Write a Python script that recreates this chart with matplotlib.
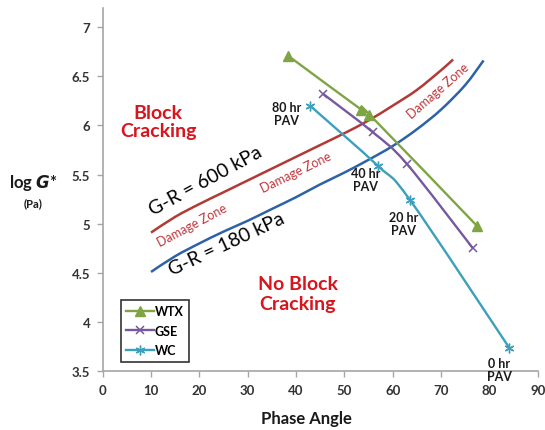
import matplotlib
matplotlib.use('Agg')
import matplotlib.pyplot as plt
import numpy as np
from matplotlib.path import Path
from matplotlib.patches import PathPatch
from matplotlib.lines import Line2D

plt.rcParams['font.family'] = ['Lato', 'DejaVu Sans']

# ---- data ----
wtx_phase = [38.3, 53.5, 55.2, 77.4]
wtx_logg = [6.71, 6.16, 6.11, 4.98]

gse_phase = [45.6, 55.9, 62.9, 76.6]
gse_logg = [6.32, 5.93, 5.61, 4.75]

wc_phase = [42.9, 56.9, 63.6, 84.1]
wc_logg = [6.20, 5.59, 5.24, 3.74]

# G-R = 600 kPa boundary (upper) and G-R = 180 kPa boundary (lower)
gr600_phase = [10, 15, 20, 25, 30, 35, 40, 45, 50, 55, 60, 65, 70, 72.5]
gr600_logg = [4.91, 5.07, 5.20, 5.32, 5.44, 5.56, 5.68, 5.80, 5.92, 6.05, 6.20, 6.36, 6.56, 6.67]
gr180_phase = [10, 15, 20, 25, 30, 35, 40, 45, 50, 55, 60, 65, 70, 75, 78.8]
gr180_logg = [4.51, 4.67, 4.80, 4.92, 5.03, 5.15, 5.27, 5.40, 5.52, 5.65, 5.79, 5.96, 6.16, 6.41, 6.66]

pav_labels = ['80 hr\nPAV', '40 hr\nPAV', '20 hr\nPAV', '0 hr\nPAV']
pav_phase = [38.1, 54.4, 62.2, 82.0]
pav_logg = [6.12, 5.45, 5.00, 3.52]

x_ticks = [0, 10, 20, 30, 40, 50, 60, 70, 80, 90]
y_ticks = [3.5, 4, 4.5, 5, 5.5, 6, 6.5, 7]
y_tick_labels = ['3.5', '4', '4.5', '5', '5.5', '6', '6.5', '7']

C_WTX = '#7fa543'
C_GSE = '#7559a0'
C_WC = '#3c9fbc'
C_RED = '#b23a36'
C_BLUE = '#2e62a6'
C_TXT_RED = '#d8141c'
C_DZ = '#c0353a'


def smooth_path(x, y):
    """Catmull-Rom style smoothed path through the points (like Excel smoothed lines)."""
    pts = np.column_stack([x, y]).astype(float)
    n = len(pts)
    verts = [pts[0]]
    codes = [Path.MOVETO]
    for i in range(n - 1):
        p0 = pts[i - 1] if i > 0 else pts[i]
        p1 = pts[i]
        p2 = pts[i + 1]
        p3 = pts[i + 2] if i + 2 < n else pts[i + 1]
        c1 = p1 + (p2 - p0) / 6.0
        c2 = p2 - (p3 - p1) / 6.0
        verts += [c1, c2, p2]
        codes += [Path.CURVE4] * 3
    return Path(verts, codes)


def draw_smooth(ax, x, y, color, lw=1.7):
    ax.add_patch(PathPatch(smooth_path(x, y), facecolor='none', edgecolor=color,
                           lw=lw, capstyle='butt', zorder=3))


fig = plt.figure(figsize=(5.45, 4.31), dpi=100)
ax = fig.add_axes([0.1884, 0.1362, 0.7982, 0.8422])

# boundary curves
draw_smooth(ax, gr600_phase, gr600_logg, C_RED, lw=1.8)
draw_smooth(ax, gr180_phase, gr180_logg, C_BLUE, lw=1.8)

# series
draw_smooth(ax, wtx_phase, wtx_logg, C_WTX)
draw_smooth(ax, gse_phase, gse_logg, C_GSE)
draw_smooth(ax, wc_phase, wc_logg, C_WC)
ax.plot(wtx_phase, wtx_logg, ls='none', marker='^', ms=7, color=C_WTX, zorder=4)
ax.plot(gse_phase, gse_logg, ls='none', marker='x', ms=6, mew=1.1, color=C_GSE, zorder=4)
ax.plot(wc_phase, wc_logg, ls='none', marker=(6, 2, 0), ms=7, mew=1.0, color=C_WC, zorder=4)

# region text
ax.text(11.5, 6.04, 'Block\nCracking', color=C_TXT_RED, fontsize=14, fontweight='bold',
        ha='center', va='center', linespacing=1.1)
ax.text(40.4, 4.29, 'No Block\nCracking', color=C_TXT_RED, fontsize=14, fontweight='bold',
        ha='center', va='center', linespacing=1.2)

ax.text(21.3, 5.44, 'G-R = 600 kPa', fontsize=14, rotation=28.5, rotation_mode='anchor',
        ha='center', va='center', color='black')
ax.text(25.6, 4.80, 'G-R = 180 kPa', fontsize=14, rotation=25, rotation_mode='anchor',
        ha='center', va='center', color='black')

ax.text(18.6, 4.99, 'Damage Zone', fontsize=9, rotation=28, rotation_mode='anchor',
        ha='center', va='center', color=C_DZ)
ax.text(40.0, 5.53, 'Damage Zone', fontsize=9, rotation=26, rotation_mode='anchor',
        ha='center', va='center', color=C_DZ)
ax.text(69.4, 6.36, 'Damage Zone', fontsize=9, rotation=41, rotation_mode='anchor',
        ha='center', va='center', color=C_DZ)

for lab, px, py in zip(pav_labels, pav_phase, pav_logg):
    ax.text(px, py, lab, fontsize=9, fontweight='bold', ha='center', va='center',
            color='#1a1a1a', linespacing=1.15)

# axes styling
ax.set_xlim(0, 90)
ax.set_ylim(3.5, 7.19)
ax.set_xticks(x_ticks)
ax.set_yticks(y_ticks)
ax.set_yticklabels(y_tick_labels)
for s in ['top', 'right']:
    ax.spines[s].set_visible(False)
for s in ['left', 'bottom']:
    ax.spines[s].set_color('#a6a6a6')
    ax.spines[s].set_linewidth(1.2)
ax.tick_params(direction='out', length=4, width=1, color='#a6a6a6', labelsize=9.5,
               labelcolor='#333333', pad=5)
for t in ax.get_xticklabels() + ax.get_yticklabels():
    t.set_fontweight('bold')

fig.text(0.563, 0.028, 'Phase Angle', fontsize=12, fontweight='bold', ha='center',
         va='center', color='#1a1a1a')
fig.text(0.061, 0.575, 'log $\\bfit{G}$*', fontsize=12, fontweight='bold', ha='center',
         va='center', color='#1a1a1a')
fig.text(0.061, 0.528, '(Pa)', fontsize=8, fontweight='bold', ha='center',
         va='center', color='#1a1a1a')

handles = [
    Line2D([0], [0], color=C_WTX, lw=1.7, marker='^', ms=7),
    Line2D([0], [0], color=C_GSE, lw=1.7, marker='x', ms=6, mew=1.1),
    Line2D([0], [0], color=C_WC, lw=1.7, marker=(6, 2, 0), ms=7, mew=1.0),
]
leg = ax.legend(handles, ['WTX', 'GSE', 'WC'], loc='lower left',
                bbox_to_anchor=(0.041, 0.026), frameon=True, fancybox=False,
                edgecolor='black', fontsize=9, handlelength=2.2, handletextpad=0.1,
                borderpad=0.45, labelspacing=0.6, borderaxespad=0)
leg.get_frame().set_linewidth(1.2)
for t in leg.get_texts():
    t.set_fontweight('bold')

fig.savefig('out.png', dpi=100)
